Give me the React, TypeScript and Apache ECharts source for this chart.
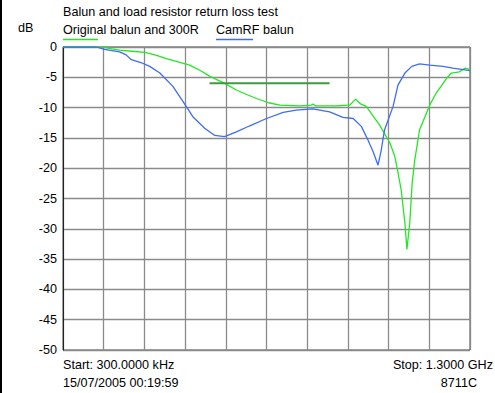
import React, { useEffect, useRef } from "react";
import * as echarts from "echarts";

// x in screen divisions (0..10 spanning 300 kHz .. 1.3 GHz), y in dB
const originalBalun: [number, number][] = [
  [0, 0], [0.98, 0], [1.2, -0.3], [1.39, -0.5], [1.7, -0.7], [2.01, -0.9],
  [2.3, -1.4], [2.54, -1.9], [2.85, -2.5], [3.11, -3.0], [3.35, -3.8],
  [3.6, -4.8], [3.97, -6.0], [4.26, -7.1], [4.5, -7.8], [4.75, -8.5],
  [5.05, -9.2], [5.33, -9.6], [5.82, -9.7], [6.1, -9.6], [6.14, -9.4],
  [6.2, -9.7], [6.68, -9.7], [7.04, -9.6], [7.19, -8.6], [7.31, -9.4],
  [7.45, -9.8], [7.78, -12.9], [8.03, -15.8], [8.15, -18], [8.22, -20.3],
  [8.31, -23.6], [8.4, -29], [8.45, -33.4], [8.52, -29], [8.58, -22.4],
  [8.64, -18.8], [8.72, -15.4], [8.76, -13.7], [9.01, -9.6], [9.17, -7.6],
  [9.42, -5.2], [9.54, -4.3], [9.74, -4.1], [9.87, -3.5], [10, -3.7],
];

const camrfBalun: [number, number][] = [
  [0, 0], [0.82, 0], [1.02, -0.4], [1.39, -0.8], [1.55, -1.3], [1.68, -2.1],
  [1.93, -2.6], [2.13, -3.2], [2.38, -4.3], [2.7, -6.5], [2.95, -9.0],
  [3.19, -11.5], [3.48, -13.4], [3.73, -14.6], [3.97, -14.8], [4.26, -14.0],
  [4.59, -13.0], [5.0, -11.8], [5.41, -10.8], [5.73, -10.4], [6.14, -10.2],
  [6.55, -10.7], [6.88, -11.6], [7.13, -11.8], [7.33, -13.1], [7.49, -15.3],
  [7.62, -17.3], [7.74, -19.5], [7.82, -17], [7.86, -15.3], [7.9, -13.7],
  [8.11, -9.8], [8.23, -6.3], [8.4, -4.3], [8.57, -3.2], [8.76, -2.8],
  [9.01, -3.0], [9.34, -3.2], [9.58, -3.5], [9.79, -3.7], [10, -3.9],
];

const markerLine: [number, number][] = [[3.6, -6], [6.55, -6]];

const yTicks = [0, -5, -10, -15, -20, -25, -30, -35, -40, -45, -50];

const titleText = "Balun and load resistor return loss test";
const unitText = "dB";
const seriesNames = ["Original balun and 300R", "CamRF balun"];
const footer = ["Start: 300.0000 kHz", "Stop: 1.3000 GHz", "15/07/2005 00:19:59", "8711C"];

const FONT = "Liberation Sans, Arial, sans-serif";
const FS = 12.6;
const GREEN = "#22e822";
const BLUE = "#3f6cf2";
const INK = "#000";

export default function App() {
  const ref = useRef<HTMLDivElement>(null);
  useEffect(() => {
    document.body.style.margin = "0";
    if (!ref.current) return;
    const chart = echarts.init(ref.current, undefined, { renderer: "svg" });
    const txt = (x: number, y: number, text: string, align: string = "left") => ({
      type: "text",
      x,
      y,
      style: { text, fontFamily: FONT, fontSize: FS, fill: INK, textAlign: align, textVerticalAlign: "middle" },
    });
    chart.setOption({
      animation: false,
      backgroundColor: "#ffffff",
      grid: { left: 63, right: 25, top: 47, bottom: 43, show: true, borderColor: "#444", borderWidth: 1 },
      xAxis: {
        type: "value",
        min: 0,
        max: 10,
        interval: 1,
        axisLabel: { show: false },
        axisTick: { show: false },
        axisLine: { show: false },
        splitLine: { show: true, lineStyle: { color: "#8a8a8a", width: 1.3 } },
      },
      yAxis: {
        type: "value",
        min: -50,
        max: 0,
        interval: 5,
        axisTick: { show: false },
        axisLine: { show: true, lineStyle: { color: "#222", width: 1 } },
        axisLabel: {
          margin: 6,
          color: INK,
          fontFamily: FONT,
          fontSize: FS,
          formatter: (v: number) => (yTicks.includes(v) ? String(v) : ""),
        },
        splitLine: { show: true, lineStyle: { color: "#8a8a8a", width: 1.3 } },
      },
      series: [
        {
          name: seriesNames[0],
          type: "line",
          data: originalBalun,
          showSymbol: false,
          lineStyle: { color: GREEN, width: 1.3 },
          z: 3,
        },
        {
          name: seriesNames[1],
          type: "line",
          data: camrfBalun,
          showSymbol: false,
          lineStyle: { color: BLUE, width: 1.3 },
          z: 4,
        },
        {
          name: "marker",
          type: "line",
          data: markerLine,
          showSymbol: false,
          lineStyle: { color: "#3e9a3e", width: 2 },
          z: 5,
        },
      ],
      graphic: [
        { type: "rect", left: 0, top: 0, shape: { width: 2, height: 393 }, style: { fill: "#000" } },
        txt(63, 12, titleText),
        txt(18, 28, unitText),
        txt(63, 30, seriesNames[0]),
        { type: "line", shape: { x1: 63, y1: 39.5, x2: 98, y2: 39.5 }, style: { stroke: GREEN, lineWidth: 1.5 } },
        txt(216, 30, seriesNames[1]),
        { type: "line", shape: { x1: 216, y1: 39.5, x2: 253, y2: 39.5 }, style: { stroke: BLUE, lineWidth: 1.5 } },
        txt(63, 365, footer[0]),
        txt(493, 365, footer[1], "right"),
        txt(63, 383, footer[2]),
        txt(477, 383, footer[3], "right"),
      ],
    });
    return () => chart.dispose();
  }, []);
  return <div ref={ref} style={{ width: 495, height: 393 }} />;
}
